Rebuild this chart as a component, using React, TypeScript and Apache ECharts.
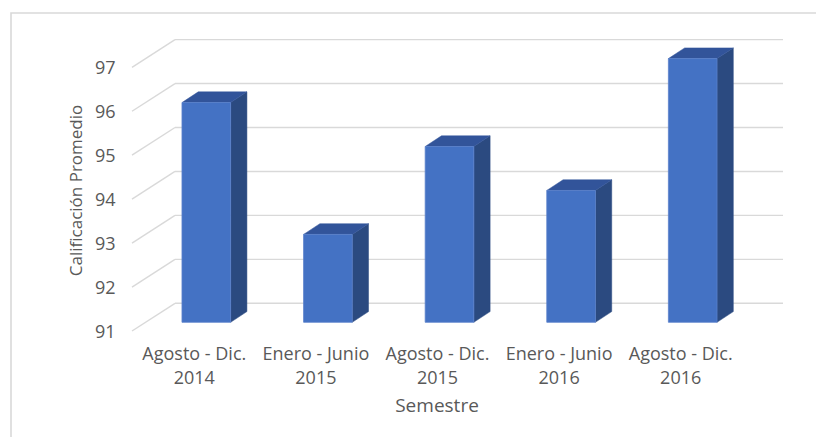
import React, { useEffect, useRef } from "react";
import * as echarts from "echarts";

const categories = [
  "Agosto - Dic.\n2014",
  "Enero - Junio\n2015",
  "Agosto - Dic.\n2015",
  "Enero - Junio\n2016",
  "Agosto - Dic.\n2016",
];
const values = [96, 93, 95, 94, 97];
const yTicks = [91, 92, 93, 94, 95, 96, 97];
const yMin = 91;
const yMax = 97;

// 3D projection offsets (pixels)
const BACK = [29.5, -19];
const FRONT = [-13.5, 8.7];
const BAR_DEPTH = [16.3, -10.7];

export default function App() {
  const ref = useRef<HTMLDivElement>(null);
  useEffect(() => {
    if (!ref.current) return;
    const chart = echarts.init(ref.current, null, { renderer: "svg" });
    const font = "Open Sans";
    const textColor = "#595959";
    chart.setOption({
      animation: false,
      backgroundColor: "#ffffff",
      textStyle: { fontFamily: font },
      graphic: [
        {
          type: "rect",
          shape: { x: 11, y: 13, width: 900, height: 600 },
          style: { fill: "none", stroke: "#d9d9d9", lineWidth: 1.6 },
          silent: true,
          z: -10,
        },
      ],
      grid: { left: 145.5, right: 62.5, top: 58.6, bottom: 114.7 },
      xAxis: {
        type: "category",
        data: categories,
        axisLine: { show: false },
        axisTick: { show: false },
        axisLabel: {
          color: textColor,
          fontSize: 18,
          lineHeight: 23.5,
          margin: 19,
          padding: [0, 24, 0, 0],
          interval: 0,
        },
        name: "Semestre",
        nameLocation: "middle",
        nameGap: 73,
        nameTextStyle: { color: textColor, fontSize: 19, padding: [0, 25, 0, 0] },
      },
      yAxis: {
        type: "value",
        min: yMin,
        max: yMax,
        interval: 1,
        axisLine: { show: false },
        axisTick: { show: false },
        splitLine: { show: false },
        axisLabel: {
          color: textColor,
          fontSize: 18,
          margin: 30,
          verticalAlign: "top",
          lineHeight: 17.4,
        },
        name: "Calificación Promedio",
        nameLocation: "middle",
        nameGap: 62,
        nameTextStyle: { color: textColor, fontSize: 17 },
      },
      series: [
        {
          type: "custom",
          z: 1,
          silent: true,
          data: yTicks.map((v) => [0, v]),
          renderItem: (params: any, api: any) => {
            const cs = params.coordSys;
            const v = api.value(1);
            const y = api.coord([0, v])[1];
            const L = cs.x;
            const W = cs.width;
            const style = { stroke: "#d9d9d9", lineWidth: 1.4 };
            return {
              type: "group",
              children: [
                {
                  type: "line",
                  shape: { x1: L + BACK[0], y1: y + BACK[1], x2: L + W + BACK[0], y2: y + BACK[1] },
                  style,
                },
                {
                  type: "line",
                  shape: { x1: L + BACK[0], y1: y + BACK[1], x2: L + FRONT[0], y2: y + FRONT[1] },
                  style,
                },
              ],
            };
          },
        },
        {
          type: "custom",
          z: 2,
          data: values.map((v, i) => [i, v]),
          renderItem: (params: any, api: any) => {
            const i = api.value(0);
            const v = api.value(1);
            const base = api.coord([i, yMin]);
            const top = api.coord([i, v]);
            const w = api.size([1, 0])[0] * 0.4;
            const x0 = base[0] - w / 2;
            const x1 = x0 + w;
            const yt = top[1];
            const yb = base[1];
            const dx = BAR_DEPTH[0];
            const dy = BAR_DEPTH[1];
            return {
              type: "group",
              children: [
                {
                  type: "polygon",
                  shape: { points: [[x1, yt], [x1 + dx, yt + dy], [x1 + dx, yb + dy], [x1, yb]] },
                  style: { fill: "#2b4a80", stroke: "#2b4a80", lineWidth: 0.5 },
                },
                {
                  type: "polygon",
                  shape: { points: [[x0, yt], [x0 + dx, yt + dy], [x1 + dx, yt + dy], [x1, yt]] },
                  style: { fill: "#32549a", stroke: "#32549a", lineWidth: 0.5 },
                },
                {
                  type: "rect",
                  shape: { x: x0, y: yt, width: w, height: yb - yt },
                  style: { fill: "#4472c4", stroke: "#5a82cc", lineWidth: 0.8 },
                },
              ],
            };
          },
        },
      ],
    });
    return () => chart.dispose();
  }, []);
  return (
    <div
      ref={ref}
      style={{ position: "fixed", left: 0, top: 0, width: 816, height: 437 }}
    />
  );
}
